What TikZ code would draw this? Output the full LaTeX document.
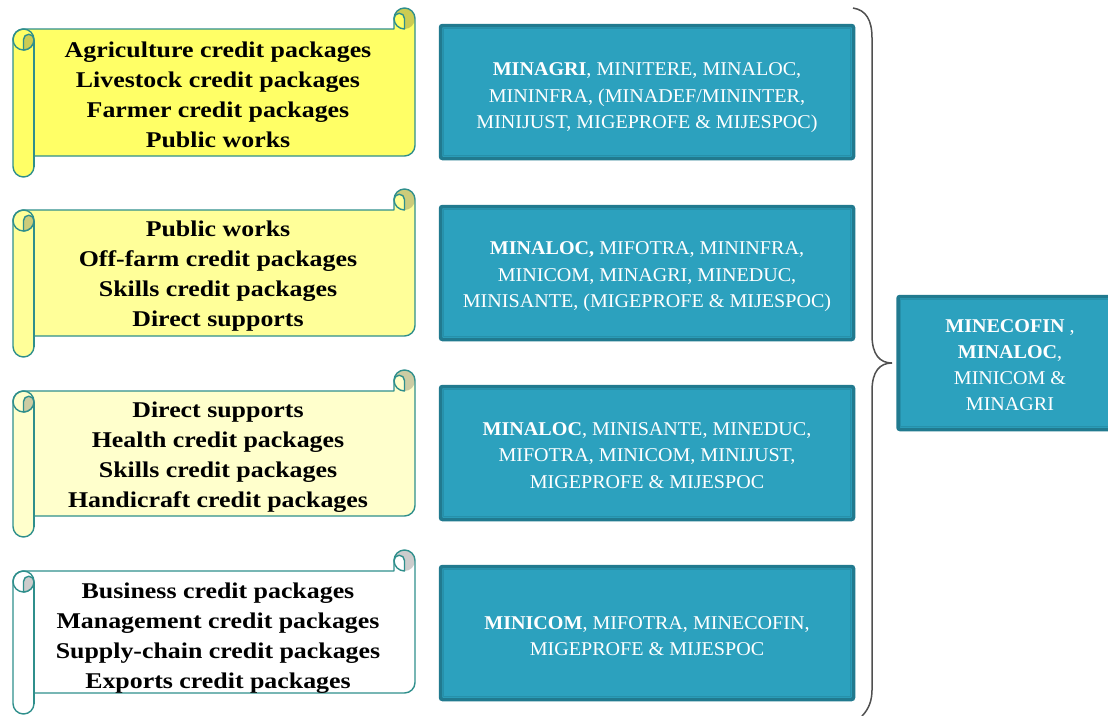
\documentclass[tikz,border=0pt]{standalone}
\usepackage{fontspec}
\setmainfont{Liberation Serif}
\newfontfamily\scrollfont[FakeStretch=1.15]{Liberation Serif}
\newfontfamily\boxfont[FakeStretch=1.03]{Liberation Serif}
\definecolor{scrollline}{HTML}{2F8F8C}
\definecolor{yA}{HTML}{FFFF66}
\definecolor{yAd}{HTML}{CCCC52}
\definecolor{yB}{HTML}{FFFF99}
\definecolor{yBd}{HTML}{CCCC7A}
\definecolor{yC}{HTML}{FFFFCC}
\definecolor{yCd}{HTML}{CCCCA3}
\definecolor{yD}{HTML}{FFFFFF}
\definecolor{yDd}{HTML}{CCCCCC}
\definecolor{tealfill}{HTML}{2CA1BE}
\definecolor{tealedge}{HTML}{217A8F}
\definecolor{tealinner}{HTML}{2690AA}
\definecolor{bracecol}{HTML}{505050}
\tikzset{
  scrolltext/.style={align=center,font=\scrollfont\fontsize{22.5}{30}\selectfont\bfseries,text=black,inner sep=0pt},
  tealbox/.style={fill=tealfill,draw=tealedge,line width=3.5pt,rounded corners=2pt,
     minimum width=413pt,minimum height=133pt,inner sep=0pt},
  boxtext/.style={text=white,align=center,font=\boxfont\fontsize{19.5}{26.5}\selectfont,inner sep=0pt},
  tealinnerline/.style={draw=tealinner,line width=1pt},
  scrollpath/.style={draw=scrollline,line width=1.4pt,line join=round},
  bracestyle/.style={draw=bracecol,line width=1.5pt}
}
% #1 L, #2 T, #3 R, #4 B, #5 fill, #6 dark
\newcommand{\scrolloutline}[4]{(#1,{#2+31.5}) arc[start angle=180,end angle=270,radius=10.5] -- ({#3-21},{#2+21}) -- ({#3-21},{#2+10.5}) arc[start angle=180,end angle=360,radius=10.5] -- (#3,{#4-31.5}) arc[start angle=0,end angle=90,radius=10.5] -- ({#1+21},{#4-21}) -- ({#1+21},{#4-10.5}) arc[start angle=0,end angle=180,radius=10.5] -- cycle}
\newcommand{\scrollshape}[6]{%
  \fill[#5] \scrolloutline{#1}{#2}{#3}{#4};
  \fill[#6] ({#3-10.5},{#2+10.5}) circle[radius=10.5];
  \filldraw[scrollpath,fill=#5] ({#3-10.5},{#2+21}) -- ({#3-10.5},{#2+10.5}) arc[start angle=0,end angle=-180,radius=5.25] arc[start angle=180,end angle=90,radius=10.5] -- cycle;
  \draw[scrollpath] ({#1+10.5},{#2+31.5}) circle[radius=10.5];
  \filldraw[scrollpath,fill=#6] ({#1+10.5},{#2+42}) -- ({#1+10.5},{#2+31.5}) arc[start angle=180,end angle=360,radius=5.25] arc[start angle=0,end angle=90,radius=10.5] -- cycle;
  \draw[scrollpath] ({#1+21},{#2+31.5}) -- ({#1+21},{#4-10.5});
  \draw[scrollpath] \scrolloutline{#1}{#2}{#3}{#4};
}
\begin{document}
\begin{tikzpicture}[x=1pt,y=-1pt]
\useasboundingbox (0,0) rectangle (1108,715);
\clip (0,0) rectangle (1108,715);
\fill[white] (0,0) rectangle (1108,715);

% scrolls
\scrollshape{13}{8}{415}{177}{yA}{yAd}
\scrollshape{13}{189}{415}{357}{yB}{yBd}
\scrollshape{13}{370}{415}{537}{yC}{yCd}
\scrollshape{13}{550}{415}{714}{yD}{yDd}

\node[scrolltext] (s1) at (218,95) {Agriculture credit packages\\Livestock credit packages\\Farmer credit packages\\Public works};
\node[scrolltext] (s2) at (218,276) {Public works\\Off-farm credit packages\\Skills credit packages\\Direct supports};
\node[scrolltext] (s3) at (218,457) {Direct supports\\Health credit packages\\Skills credit packages\\Handicraft credit packages};
\node[scrolltext] (s4) at (218,638.5) {Business credit packages\\Management credit packages\\Supply-chain credit packages\\Exports credit packages};

% teal boxes
\node[tealbox] (b1) at (647,92) {};
\node[tealbox] (b2) at (647,273) {};
\node[tealbox] (b3) at (647,453) {};
\node[tealbox] (b4) at (647,633) {};
\node[tealbox,minimum width=226pt] (b5) at (1011,363) {};
\foreach \b in {b1,b2,b3,b4,b5}{
  \draw[tealinnerline] ([shift={(4.5,4.5)}]\b.north west) rectangle ([shift={(-4.5,-4.5)}]\b.south east);
}
\node[boxtext] (t1) at (647,98) {\textbf{MINAGRI}, MINITERE, MINALOC,\\MININFRA, (MINADEF/MININTER,\\MINIJUST, MIGEPROFE \& MIJESPOC)};
\node[boxtext] (t2) at (647,277) {\textbf{MINALOC,} MIFOTRA, MININFRA,\\MINICOM, MINAGRI, MINEDUC,\\MINISANTE, (MIGEPROFE \& MIJESPOC)};
\node[boxtext] (t3) at (647,455.5) {\textbf{MINALOC}, MINISANTE, MINEDUC,\\MIFOTRA, MINICOM, MINIJUST,\\MIGEPROFE \& MIJESPOC};
\node[boxtext] (t4) at (647,636) {\textbf{MINICOM}, MIFOTRA, MINECOFIN,\\MIGEPROFE \& MIJESPOC};
\node[boxtext,font=\boxfont\fontsize{19.5}{26}\selectfont] (t5) at (1010,365) {\textbf{MINECOFIN} ,\\\textbf{MINALOC},\\MINICOM \&\\MINAGRI};

% brace
\coordinate (bt) at (853,8);
\coordinate (bb) at (862,716);
\coordinate (tip) at (892,363);
\draw[bracestyle] (bt) .. controls (866,10) and (872,20) .. (872,38) -- (872,335) .. controls (872,355) and (880,363) .. (tip) .. controls (880,363) and (872,371) .. (872,391) -- (872,690) .. controls (872,700) and (869,709) .. (bb);
\end{tikzpicture}
\end{document}
